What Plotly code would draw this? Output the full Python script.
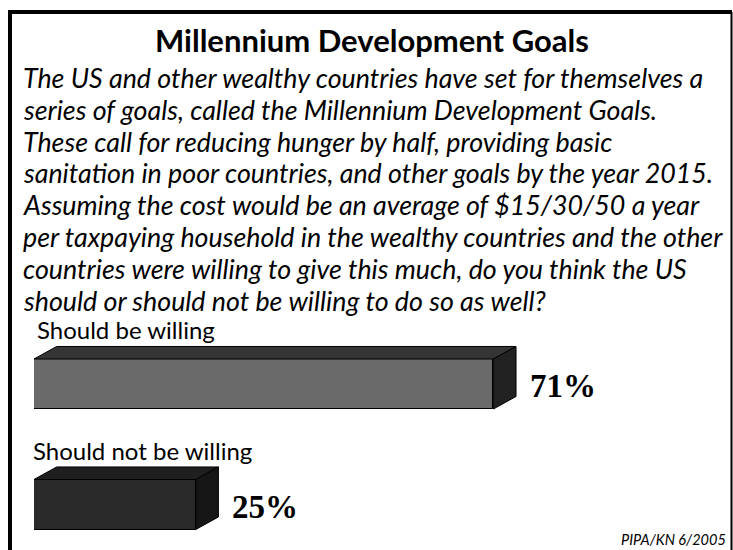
import plotly.graph_objects as go

# ---- data ----
categories = ["Should be willing", "Should not be willing"]
values = [71, 25]
value_labels = ["71%", "25%"]
title_text = "Millennium Development Goals"
question_lines = [
    "The US and other wealthy countries have set for themselves a",
    "series of goals, called the Millennium Development Goals.",
    "These call for reducing hunger by half, providing basic",
    "sanitation in poor countries, and other goals by the year 2015.",
    "Assuming the cost would be an average of $15/30/50 a year",
    "per taxpaying household in the wealthy countries and the other",
    "countries were willing to give this much, do you think the US",
    "should or should not be willing to do so as well?",
]
source_text = "PIPA/KN 6/2005"

# ---- style ----
W, H = 733, 550
FONT = "Lato"
front_colors = ["#6a6a6a", "#2a2a2a"]
top_colors = ["#353535", "#1f1f1f"]
side_colors = ["#222222", "#161616"]
bar_w = 0.415          # bar thickness in category units
depth_x = 3.5          # depth offset in value units
depth_y = -0.104       # depth offset in category units (upwards)

fig = go.Figure()
ypos = list(range(len(categories)))

for i, (cat, v) in enumerate(zip(categories, values)):
    top = ypos[i] - bar_w / 2
    bot = ypos[i] + bar_w / 2
    # top face
    fig.add_trace(go.Scatter(
        x=[0, v, v + depth_x, depth_x, 0],
        y=[top, top, top + depth_y, top + depth_y, top],
        fill="toself", fillcolor=top_colors[i], mode="lines",
        line=dict(color="#000000", width=1), hoverinfo="skip", showlegend=False))
    # side face
    fig.add_trace(go.Scatter(
        x=[v, v + depth_x, v + depth_x, v, v],
        y=[top, top + depth_y, bot + depth_y, bot, top],
        fill="toself", fillcolor=side_colors[i], mode="lines",
        line=dict(color="#000000", width=1), hoverinfo="skip", showlegend=False))

# front faces
fig.add_trace(go.Bar(
    x=values, y=ypos, orientation="h", width=bar_w,
    marker=dict(color=front_colors, line=dict(color="#000000", width=1)),
    hoverinfo="skip", showlegend=False))

# value labels
for i, (v, lab) in enumerate(zip(values, value_labels)):
    fig.add_annotation(x=v + depth_x, y=ypos[i], xref="x", yref="y",
                       text="<b>" + lab + "</b>", showarrow=False,
                       xanchor="left", yanchor="middle", xshift=12, yshift=-2,
                       font=dict(family="Liberation Serif", size=33, color="#000000"))

# category labels above bars
for i, cat in enumerate(categories):
    fig.add_annotation(x=0, y=ypos[i] - bar_w / 2 + depth_y, xref="x", yref="y",
                       text=cat, showarrow=False, xanchor="left", yanchor="bottom",
                       xshift=1 if i == 0 else -3, yshift=0,
                       font=dict(family=FONT, size=24, color="#000000"))

# title
fig.add_annotation(x=372 / W, y=1 - 40 / H, xref="paper", yref="paper",
                   text="<b>" + title_text + "</b>", showarrow=False,
                   xanchor="center", yanchor="middle",
                   font=dict(family=FONT, size=31, color="#000000"))

# question text
for k, line in enumerate(question_lines):
    yc = 78 + k * 31.8
    fig.add_annotation(x=21 / W, y=1 - yc / H, xref="paper", yref="paper",
                       text="<i>" + line + "</i>", showarrow=False,
                       xanchor="left", yanchor="middle",
                       font=dict(family=FONT, size=26.8, color="#000000"))

# source
fig.add_annotation(x=728 / W, y=1 - 539 / H, xref="paper", yref="paper",
                   text="<i>" + source_text + "</i>", showarrow=False,
                   xanchor="right", yanchor="middle",
                   font=dict(family=FONT, size=14.5, color="#000000"))

# frame (left, top, right; open at bottom)
fig.add_shape(type="line", xref="paper", yref="paper",
              x0=10 / W, x1=10 / W, y0=0, y1=1 - 10 / H,
              line=dict(color="#000000", width=4))
fig.add_shape(type="line", xref="paper", yref="paper",
              x0=8 / W, x1=732 / W, y0=1 - 12 / H, y1=1 - 12 / H,
              line=dict(color="#000000", width=4))
fig.add_shape(type="line", xref="paper", yref="paper",
              x0=731.5 / W, x1=731.5 / W, y0=0, y1=1 - 12 / H,
              line=dict(color="#000000", width=2))

x0_px = 34
px_per_unit = 6.47
y0_px = 384
px_per_cat = 120.5

fig.update_layout(
    width=W, height=H,
    margin=dict(l=0, r=0, t=0, b=0),
    paper_bgcolor="#ffffff", plot_bgcolor="rgba(0,0,0,0)",
    bargap=0,
    xaxis=dict(domain=[x0_px / W, (x0_px + 100 * px_per_unit) / W], range=[0, 100],
               visible=False, fixedrange=True),
    yaxis=dict(domain=[0, 1],
               range=[(H - y0_px) / px_per_cat, -y0_px / px_per_cat],
               visible=False, fixedrange=True),
)

fig.write_html("out.html", config={"displayModeBar": False},
               post_script="document.body.style.margin='0';document.body.style.overflow='hidden';")
